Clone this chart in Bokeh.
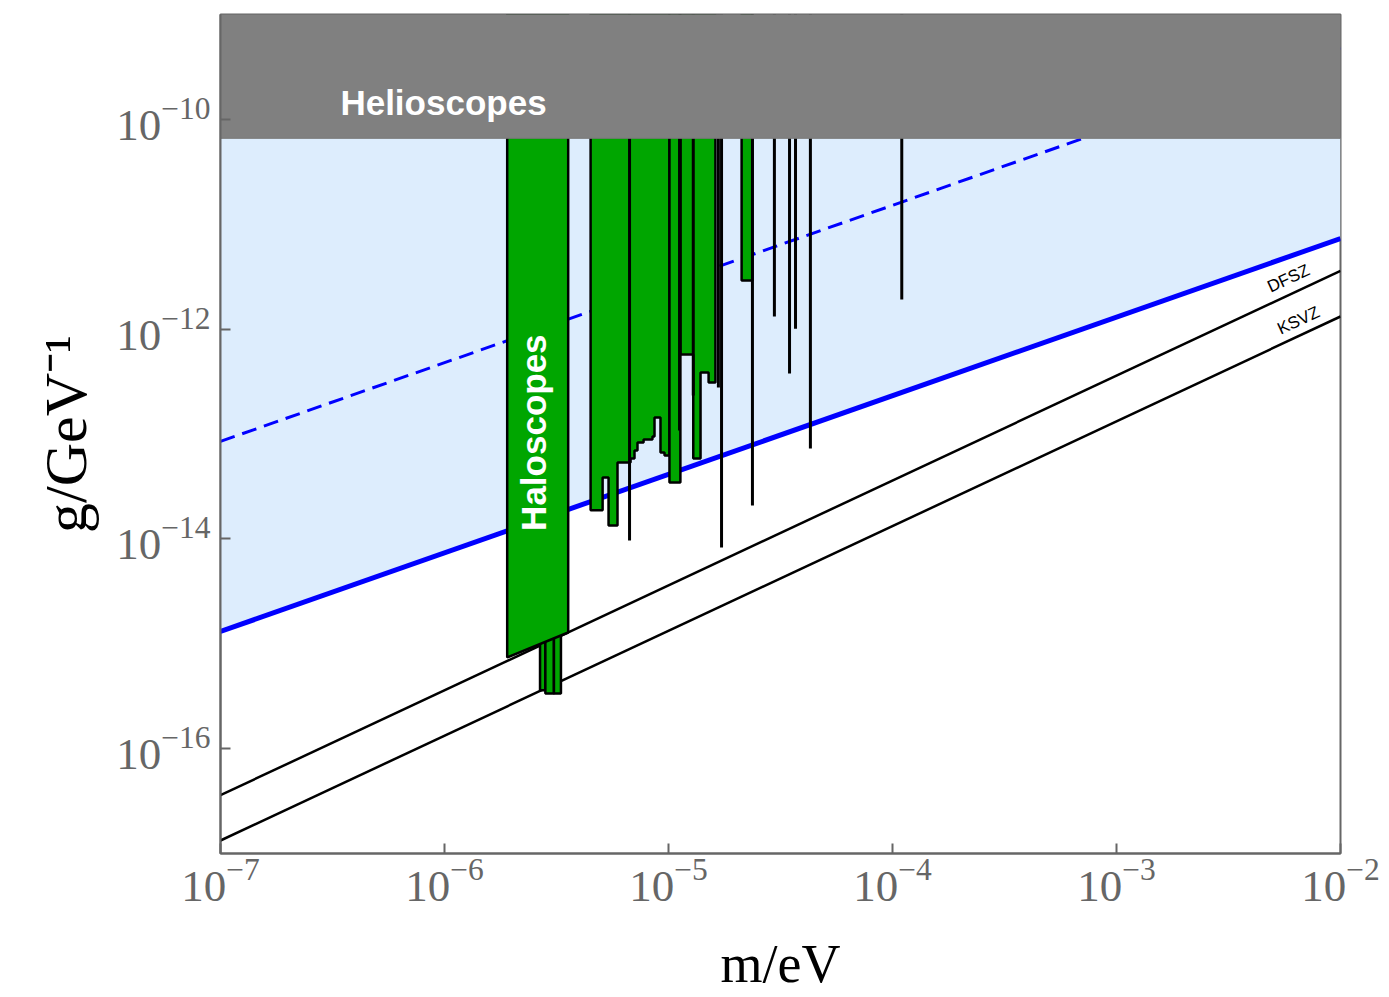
import math
from bokeh.plotting import figure
from bokeh.models import FixedTicker, LogTickFormatter
from bokeh.core.properties import value
from bokeh.embed import file_html
from bokeh.resources import INLINE

# ---------------- data ----------------
m_min, m_max = 1e-7, 1e-2
g_min, g_max = 1e-17, 1e-9
helioscope_limit = 6.6e-11

x_ticks = [1e-7, 1e-6, 1e-5, 1e-4, 1e-3, 1e-2]
y_ticks = [1e-16, 1e-14, 1e-12, 1e-10]

# straight model lines (mass in eV -> coupling in 1/GeV)
line_m = [1e-7, 1e-2]
blue_solid_g = [1.31e-15, 7.31e-12]
blue_dashed_g = [8.5e-14, 4.8e-10]
dfsz_g = [3.6e-17, 3.6e-12]
ksvz_g = [1.33e-17, 1.32e-12]

# wide haloscope bar with slanted lower edge
wide_m = [1.905e-6, 3.566e-6]
wide_g_low = [7.4e-16, 1.28e-15]

# narrow deep bars below it
deep_m_left = [2.67e-6, 2.82e-6, 3.08e-6]
deep_m_right = [2.82e-6, 3.08e-6, 3.31e-6]
deep_g_low = [3.6e-16, 3.35e-16, 3.35e-16]
deep_g_top = [3.0e-15, 3.0e-15, 3.0e-15]

# stepped region 1
step1_edges = [4.49e-6, 5.08e-6, 5.40e-6, 5.92e-6, 6.77e-6, 7.05e-6, 7.27e-6,
               7.74e-6, 8.48e-6, 8.66e-6, 9.21e-6, 9.60e-6, 1.01e-5]
step1_g_low = [1.87e-14, 3.85e-14, 1.34e-14, 5.35e-14, 5.84e-14, 6.96e-14,
               8.30e-14, 8.87e-14, 9.47e-14, 1.44e-13, 6.66e-14, 6.24e-14]

# stepped region 2
step2_edges = [1.13e-5, 1.29e-5, 1.39e-5, 1.51e-5, 1.62e-5]
step2_g_low = [5.73e-13, 5.84e-14, 3.86e-13, 3.10e-13]

# single bars
bar_m_left = [1.01e-5, 2.12e-5]
bar_m_right = [1.13e-5, 2.37e-5]
bar_g_low = [3.45e-14, 2.91e-12]

# thin exclusion lines
thin_m = [6.70e-6, 1.12e-5, 1.29e-5, 1.67e-5, 1.725e-5, 2.37e-5,
          2.97e-5, 3.47e-5, 3.69e-5, 4.30e-5, 1.10e-4]
thin_g_low = [9.64e-15, 1.08e-13, 2.33e-13, 2.77e-13, 8.28e-15, 2.08e-14,
              1.32e-12, 3.78e-13, 1.01e-12, 7.27e-14, 1.92e-12]

# labels
region_labels = ["Helioscopes", "Haloscopes"]
region_label_m = [3.43e-7, 2.49e-6]
region_label_g = [1.45e-10, 1.03e-13]
model_labels = ["DFSZ", "KSVZ"]
model_label_m = [5.86e-3, 6.49e-3]
model_label_g = [3.04e-12, 1.21e-12]

# ---------------- styling ----------------
GREEN = "#00a600"
LIGHT_BLUE = "#ddedfd"
GRAY = "#808080"
FRAME = "#666666"


def step_polygon(edges, lows, top):
    xs = [edges[0]]
    ys = [top]
    for i, g in enumerate(lows):
        xs += [edges[i], edges[i + 1]]
        ys += [g, g]
    xs.append(edges[-1])
    ys.append(top)
    return xs, ys


p = figure(width=1389, height=997, x_axis_type="log", y_axis_type="log",
           x_range=(m_min, m_max), y_range=(g_min, g_max),
           output_backend="svg", toolbar_location=None,
           min_border_left=220, min_border_right=49,
           min_border_top=14, min_border_bottom=144)
p.grid.visible = False
p.background_fill_color = "white"
p.border_fill_color = "white"
p.outline_line_color = FRAME
p.outline_line_width = 2

# light blue region
p.patch([m_min, m_max, m_max, m_min],
        [blue_solid_g[0], blue_solid_g[1], helioscope_limit, helioscope_limit],
        fill_color=LIGHT_BLUE, line_color=None)

# model lines
p.line(line_m, blue_dashed_g, line_color="#0000ff", line_width=3, line_dash="15 8")
p.line(line_m, blue_solid_g, line_color="#0000ff", line_width=5)
p.line(line_m, dfsz_g, line_color="black", line_width=2.5)
p.line(line_m, ksvz_g, line_color="black", line_width=2.5)

# haloscope exclusion regions
p.quad(left=deep_m_left, right=deep_m_right, bottom=deep_g_low, top=deep_g_top,
       fill_color=GREEN, line_color="black", line_width=2.5)
p.patch([wide_m[0], wide_m[1], wide_m[1], wide_m[0]],
        [wide_g_low[0], wide_g_low[1], g_max, g_max],
        fill_color=GREEN, line_color="black", line_width=2.5)
sx, sy = step_polygon(step1_edges, step1_g_low, g_max)
p.patch(sx, sy, fill_color=GREEN, line_color="black", line_width=2.5)
sx, sy = step_polygon(step2_edges, step2_g_low, g_max)
p.patch(sx, sy, fill_color=GREEN, line_color="black", line_width=2.5)
p.quad(left=bar_m_left, right=bar_m_right, bottom=bar_g_low,
       top=[g_max] * len(bar_g_low),
       fill_color=GREEN, line_color="black", line_width=2.5)
p.segment(x0=thin_m, y0=thin_g_low, x1=thin_m, y1=[g_max] * len(thin_m),
          line_color="black", line_width=3)

# helioscope region
p.patch([m_min, m_max, m_max, m_min],
        [helioscope_limit, helioscope_limit, g_max, g_max],
        fill_color=GRAY, line_color="#777777", line_width=1)

# labels
p.text(x=[region_label_m[0]], y=[region_label_g[0]], text=[region_labels[0]],
       text_font=value("Liberation Sans"), text_font_style="bold",
       text_font_size="35px", text_color="white",
       text_align="left", text_baseline="middle")
p.text(x=[region_label_m[1]], y=[region_label_g[1]], text=[region_labels[1]],
       angle=math.pi / 2,
       text_font=value("Liberation Sans"), text_font_style="bold",
       text_font_size="35px", text_color="white",
       text_align="center", text_baseline="middle")
p.text(x=model_labels and model_label_m, y=model_label_g, text=model_labels,
       angle=math.atan(104.875 / 224.0),
       text_font=value("Liberation Sans"), text_font_size="17px",
       text_color="black", text_align="center", text_baseline="middle")

# axes
for ax in (p.xaxis[0], p.yaxis[0]):
    ax.formatter = LogTickFormatter()
    ax.minor_tick_line_color = None
    ax.major_tick_in = 10
    ax.major_tick_out = 0
    ax.major_tick_line_color = FRAME
    ax.major_tick_line_width = 2
    ax.axis_line_color = FRAME
    ax.axis_line_width = 2
    ax.major_label_text_font = "Liberation Serif"
    ax.major_label_text_font_size = "45px"
    ax.major_label_text_color = "#666666"
    ax.axis_label_text_font = "Liberation Serif"
    ax.axis_label_text_font_style = "normal"
    ax.axis_label_text_color = "black"

p.xaxis[0].axis_label_text_font_size = "54px"
p.yaxis[0].axis_label_text_font_size = "60px"
p.xaxis[0].ticker = FixedTicker(ticks=x_ticks, minor_ticks=[])
p.yaxis[0].ticker = FixedTicker(ticks=y_ticks, minor_ticks=[])
p.xaxis[0].axis_label = "m/eV"
p.yaxis[0].axis_label = "g/GeV\u207b\u00b9"
p.xaxis[0].major_label_standoff = 6
p.yaxis[0].major_label_standoff = 10
p.xaxis[0].axis_label_standoff = 30
p.yaxis[0].axis_label_standoff = 14

open("out.html", "w").write(file_html(p, INLINE))
